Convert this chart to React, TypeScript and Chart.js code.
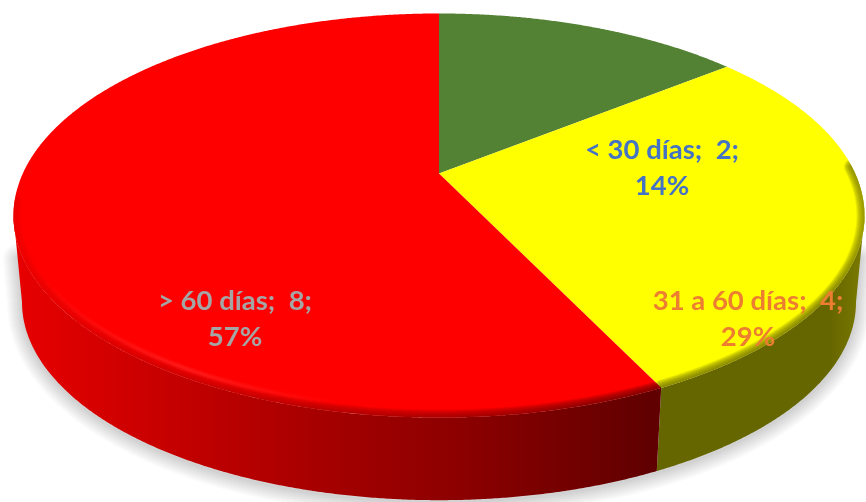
import React, { useEffect, useRef } from "react";
import { Chart, registerables } from "chart.js";

Chart.register(...registerables);

const categories = ["< 30 días", "31 a 60 días", "> 60 días"];
const values = [2, 4, 8];
const percents = ["14%", "29%", "57%"];
const sliceColors = ["#548235", "#ffff00", "#ff0000"];
const labelColors = ["#4472c4", "#ed7d31", "#a5a5a5"];

const W = 866;
const H = 502;
const CX = 439;
const CY = 173.5;
const A = 416.2;
const B = 193.3;
const K = 0.208;
const DEPTH = 87.5;
const SHRINK = 0.98;
const deg = (d: number) => (d * Math.PI) / 180;
const VIS_FROM = deg(102);
const VIS_TO = deg(258);
const LABEL_ANCHORS = [
  { x: 662, y: 150 },
  { x: 748, y: 301 },
  { x: 235, y: 301 },
];
const LINE_GAP = 36.5;

type P = [number, number];

function rim(theta: number, bottom = false): P {
  const u = Math.sin(theta);
  const v = -Math.cos(theta);
  const d = 1 - K * v;
  const s = bottom ? SHRINK : 1;
  return [CX + (s * A * u) / d, CY + (bottom ? DEPTH : 0) + (s * B * v) / d];
}

function samples(from: number, to: number, bottom = false): P[] {
  const n = Math.max(2, Math.ceil(Math.abs(to - from) / 0.005));
  const pts: P[] = [];
  for (let i = 0; i <= n; i++) pts.push(rim(from + ((to - from) * i) / n, bottom));
  return pts;
}

function trace(ctx: CanvasRenderingContext2D, pts: P[], close = true) {
  ctx.beginPath();
  pts.forEach((p, i) => (i ? ctx.lineTo(p[0], p[1]) : ctx.moveTo(p[0], p[1])));
  if (close) ctx.closePath();
}

function midpoint(a: P, b: P): P {
  return [(a[0] + b[0]) / 2, (a[1] + b[1]) / 2];
}

function sideFill(ctx: CanvasRenderingContext2D, i: number): CanvasGradient | string {
  const g = ctx.createLinearGradient(13, 0, 864, 0);
  if (i === 1) {
    g.addColorStop(0, "#666600");
    g.addColorStop(0.96, "#666600");
    g.addColorStop(1, "#7a7a00");
    return g;
  }
  g.addColorStop(0, "#e80000");
  g.addColorStop(0.17, "#c80000");
  g.addColorStop(0.35, "#a80000");
  g.addColorStop(0.55, "#880000");
  g.addColorStop(0.75, "#600000");
  g.addColorStop(1, "#600000");
  return g;
}

function layered(ctx: CanvasRenderingContext2D, maxW: number, alpha: number) {
  ctx.lineCap = "round";
  ctx.lineJoin = "round";
  ctx.globalAlpha = alpha;
  for (let w = maxW; w >= 2; w -= 2) {
    ctx.lineWidth = w;
    ctx.stroke();
  }
  ctx.globalAlpha = 1;
}

const pie3d = {
  id: "pie3d",
  beforeDatasetDraw(chart: any, args: any) {
    const ctx: CanvasRenderingContext2D = chart.ctx;
    const arcs = chart.getDatasetMeta(args.index).data;
    const span = arcs.map((a: any) => [a.startAngle + Math.PI / 2, a.endAngle + Math.PI / 2]);

    // soft ground shadow, built from stacked strokes
    ctx.save();
    ctx.strokeStyle = "#000000";
    const startP = midpoint(rim(VIS_FROM), rim(VIS_FROM, true));
    const endP = midpoint(rim(VIS_TO), rim(VIS_TO, true));
    trace(
      ctx,
      [startP].concat(
        samples(VIS_FROM, VIS_TO, true).map((p) => [p[0], p[1] + 2] as P),
        [endP]
      ),
      false
    );
    layered(ctx, 30, 0.014);
    ctx.restore();

    // side wall
    span.forEach(([s, e]: number[], i: number) => {
      const a = Math.max(s, VIS_FROM);
      const b = Math.min(e, VIS_TO);
      if (b <= a) return;
      ctx.fillStyle = sideFill(ctx, i);
      trace(ctx, samples(a, b).concat(samples(b, a, true)));
      ctx.fill();
    });

    // top face
    span.forEach(([s, e]: number[], i: number) => {
      ctx.fillStyle = sliceColors[i];
      trace(ctx, [[CX, CY] as P].concat(samples(s, e)));
      ctx.fill();
    });

    // bevel along the rim
    span.forEach(([s, e]: number[], i: number) => {
      if (i === 0) return;
      const from = Math.max(s, deg(88));
      const to = Math.min(e, deg(262));
      ctx.save();
      trace(ctx, [[CX, CY] as P].concat(samples(s, e)));
      ctx.clip();
      ctx.strokeStyle = sideFill(ctx, i);
      trace(ctx, samples(from, to), false);
      layered(ctx, 16, 0.16);
      if (i === 2) {
        const glow = ctx.createLinearGradient(30, 0, 340, 0);
        glow.addColorStop(0, "rgba(255,64,64,0)");
        glow.addColorStop(0.5, "rgba(255,64,64,1)");
        glow.addColorStop(1, "rgba(255,64,64,0)");
        ctx.strokeStyle = glow;
        trace(
          ctx,
          samples(deg(190), deg(285)).map((p) => [p[0] + 1, p[1] - 9] as P),
          false
        );
        layered(ctx, 6, 0.14);
      }
      ctx.restore();
    });

    return false;
  },
  afterDatasetsDraw(chart: any) {
    const ctx: CanvasRenderingContext2D = chart.ctx;
    ctx.save();
    ctx.font = 'bold 27.5px Lato, "Open Sans", sans-serif';
    ctx.textAlign = "center";
    ctx.textBaseline = "middle";
    categories.forEach((cat, i) => {
      const a = LABEL_ANCHORS[i];
      ctx.fillStyle = labelColors[i];
      ctx.fillText(`${cat};  ${values[i]};`, a.x, a.y);
      ctx.fillText(percents[i], a.x, a.y + LINE_GAP);
    });
    ctx.restore();
  },
};

export default function App() {
  const ref = useRef<HTMLCanvasElement>(null);
  useEffect(() => {
    document.body.style.margin = "0";
    const chart = new Chart(ref.current as HTMLCanvasElement, {
      type: "pie",
      data: {
        labels: categories,
        datasets: [{ data: values, backgroundColor: sliceColors, borderWidth: 0 }],
      },
      options: {
        animation: false,
        responsive: false,
        plugins: { legend: { display: false }, tooltip: { enabled: false } },
      },
      plugins: [pie3d],
    } as any);
    return () => chart.destroy();
  }, []);
  return (
    <div style={{ width: W, height: H, background: "#fff" }}>
      <canvas ref={ref} width={W} height={H} style={{ display: "block" }} />
    </div>
  );
}
